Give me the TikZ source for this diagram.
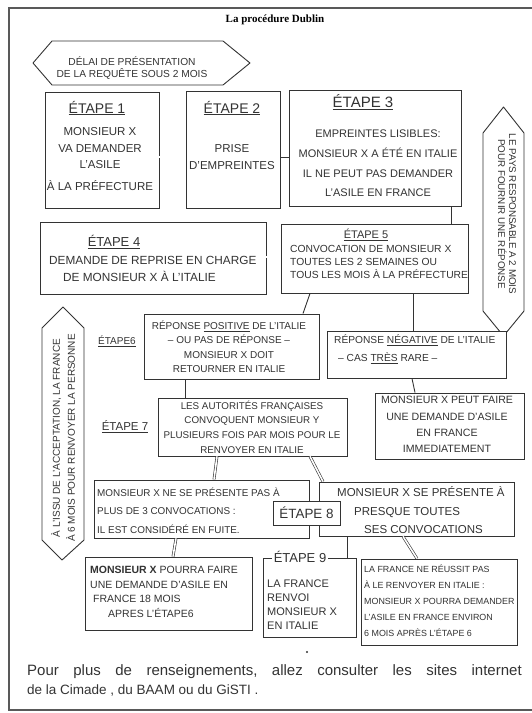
\documentclass[tikz,border=0pt]{standalone}
\usepackage{fontspec}
\setsansfont{Liberation Sans}
\newfontfamily\titlefont{Liberation Serif}
\colorlet{ink}{black!80}
\newcommand{\fs}[2]{\fontsize{#1}{#2}\selectfont}

\begin{document}
\begin{tikzpicture}[x=1pt, y=-1pt,
        box/.style={rectangle, draw=ink, line width=0.9pt, fill=white, inner sep=0pt},
        txt/.style={text=ink, inner sep=0pt, font=\sffamily},
        head/.style={text=ink, inner sep=0pt},
        link/.style={draw=ink, line width=0.9pt},
        dlink/.style={draw=ink, line width=0.6pt, double, double distance=1.6pt},
        hexa/.style={draw=ink, line width=0.9pt, line join=round}
      ]
        \useasboundingbox (0,0) rectangle (531,713);
        \draw[gray!70!black, line width=1.1pt] (9,8) rectangle (533,710);
        \node[inner sep=0pt, font=\titlefont\bfseries\fs{11}{13}] (title) at (275,20) {La procédure Dublin};

        % hexagones
        \draw[hexa] (33,63) -- (52,41) -- (223,41) -- (250,63) -- (223,85) -- (52,85) -- cycle;
        \node[txt, align=center, font=\sffamily\fs{10.2}{12}] (delai) at (132,68) {DÉLAI DE PRÉSENTATION\\DE LA REQUÊTE SOUS 2 MOIS};
        \draw[hexa] (503.5,107) -- (524,133) -- (524,311) -- (503.5,336) -- (483,311) -- (483,133) -- cycle;
        \node[txt, align=center, rotate=-90, font=\sffamily\fs{9.8}{11}] (pays) at (507,214) {LE PAYS RESPONSABLE A 2 MOIS\\POUR FOURNIR UNE RÉPONSE};
        \draw[hexa] (63,307) -- (84,328) -- (84,540) -- (62,560) -- (42,540) -- (42,328) -- cycle;
        \node[txt, align=center, rotate=90, font=\sffamily\fs{10}{15}] (issu) at (63,438) {À L'ISSU DE L'ACCEPTATION, LA FRANCE\\À 6 MOIS POUR RENVOYER LA PERSONNE};

        % cadres
        \node[box, minimum width=114, minimum height=116] (etape1)   at (102,150)   {};
        \node[box, minimum width=94,  minimum height=117] (etape2)   at (233,149.5) {};
        \node[box, minimum width=172, minimum height=116] (etape3)   at (375,148)   {};
        \node[box, minimum width=226, minimum height=72]  (etape4)   at (153,258)   {};
        \node[box, minimum width=187, minimum height=69]  (etape5)   at (374.5,258.5) {};
        \node[box, minimum width=175, minimum height=65]  (positive) at (231.5,346.5) {};
        \node[box, minimum width=179, minimum height=47]  (negative) at (416.5,354.5) {};
        \node[box, minimum width=149, minimum height=66]  (asile)    at (449.5,426) {};
        \node[box, minimum width=189, minimum height=58]  (etape7)   at (252.5,427) {};
        \node[box, minimum width=215, minimum height=58]  (fuite)    at (201.5,509) {};
        \node[box, minimum width=195, minimum height=54]  (presente) at (416.5,509) {};
        \node[box, minimum width=67,  minimum height=24, text=ink, font=\sffamily\fs{13.4}{15}] (etape8) at (306.5,513) {ÉTAPE 8};
        \node[box, minimum width=167, minimum height=73]  (dixhuit)  at (168.5,593.5) {};
        \node[box, minimum width=93,  minimum height=79]  (etape9)   at (309.5,598) {};
        \node[box, minimum width=156, minimum height=86]  (reussit)  at (439,602)   {};

        % liens
        \draw[dlink] (etape1.east |- 0,157) -- (etape2.west |- 0,157);
        \draw[link]  (etape2.east |- 0,157) -- (etape3.west |- 0,157);
        \draw[link]  (etape3.south -| 451,0) -- (etape5.north -| 451,0);
        \draw[dlink] (etape4.east |- 0,257) -- (etape5.west |- 0,257);
        \draw[link]  (etape5.south -| 310,0) -- (positive.north -| 303,0);
        \draw[link]  (etape5.south -| 413,0) -- (negative.north -| 413,0);
        \draw[link]  (negative.south -| 412,0) -- (asile.north -| 415,0);
        \draw[link]  (positive.south -| 185,0) -- (etape7.north -| 185,0);
        \draw[dlink] (etape7.south -| 217,0) -- (fuite.north -| 214,0);
        \draw[dlink] (etape7.south -| 310,0) -- (presente.north -| 323,0);
        \draw[dlink] (fuite.south -| 176,0) -- (dixhuit.north -| 173,0);
        \draw[link]  (presente.south -| 347,0) -- (etape9.north -| 347,0);
        \draw[dlink] (presente.south -| 403,0) -- (reussit.north -| 417,0);

        % textes
        \node[head, font=\sffamily\fs{14}{16}] (etape1 head) at (97,108) {\underline{ÉTAPE 1}};
        \node[txt, align=center, font=\sffamily\fs{11.5}{16.5}] (etape1 text) at (100,159) {MONSIEUR X\\VA DEMANDER\\L'ASILE\\[5pt]À LA PRÉFECTURE};
        \node[head, font=\sffamily\fs{14}{16}] (etape2 head) at (232,108) {\underline{ÉTAPE 2}};
        \node[txt, align=center, font=\sffamily\fs{11.5}{17}] (etape2 text) at (232,157.5) {PRISE\\D'EMPREINTES};
        \node[head, font=\sffamily\fs{15}{17}] (etape3 head) at (363,102) {\underline{ÉTAPE 3}};
        \node[txt, align=center, font=\sffamily\fs{11}{19.7}] (etape3 text) at (378,163.5) {EMPREINTES LISIBLES:\\MONSIEUR X A ÉTÉ EN ITALIE\\IL NE PEUT PAS DEMANDER\\L'ASILE EN FRANCE};
        \node[head, font=\sffamily\fs{13}{15}] (etape4 head) at (114,242) {\underline{ÉTAPE 4}};
        \node[txt, align=left, anchor=west, font=\sffamily\fs{11.8}{17}] (etape4 text) at (49,268.5) {DEMANDE DE REPRISE EN CHARGE\\\hspace*{14pt}DE MONSIEUR X À L'ITALIE};
        \node[head, font=\sffamily\fs{11}{13}] (etape5 head) at (366,235) {\underline{ÉTAPE 5}};
        \node[txt, align=left, anchor=west, font=\sffamily\fs{10.3}{13}] (etape5 text) at (290,262) {CONVOCATION DE MONSIEUR X\\TOUTES LES 2 SEMAINES OU\\TOUS LES MOIS À LA PRÉFECTURE};
        \node[head, font=\sffamily\fs{10}{12}] (etape6 head) at (117,341) {\underline{ÉTAPE6}};
        \node[txt, align=center, font=\sffamily\fs{10}{14.5}] (positive text) at (229,346.8) {RÉPONSE \underline{POSITIVE} DE L'ITALIE\\-- OU PAS DE RÉPONSE --\\MONSIEUR X DOIT\\RETOURNER EN ITALIE};
        \node[txt, align=left, anchor=west, font=\sffamily\fs{10.2}{18}] (negative text) at (334,349) {RÉPONSE \underline{NÉGATIVE} DE L'ITALIE\\\hspace*{4pt}-- CAS \underline{TRÈS} RARE --};
        \node[txt, align=center, font=\sffamily\fs{10.6}{16.3}] (asile text) at (447,424.5) {MONSIEUR X PEUT FAIRE\\UNE DEMANDE D'ASILE\\EN FRANCE\\IMMEDIATEMENT};
        \node[head, font=\sffamily\fs{11.5}{13}] (etape7 head) at (125,427) {\underline{ÉTAPE 7}};
        \node[txt, align=center, font=\sffamily\fs{9.8}{14.7}] (etape7 text) at (252,427) {LES AUTORITÉS FRANÇAISES\\CONVOQUENT MONSIEUR Y\\PLUSIEURS FOIS PAR MOIS POUR LE\\RENVOYER EN ITALIE};
        \node[txt, align=left, anchor=west, font=\sffamily\fs{9.9}{18.5}] (fuite text) at (97,510.5) {MONSIEUR X NE SE PRÉSENTE PAS À\\PLUS DE 3 CONVOCATIONS :\\IL EST CONSIDÉRÉ EN FUITE.};
        \node[txt, align=left, anchor=west, font=\sffamily\fs{11.5}{18.5}] (presente text) at (337,510.5) {MONSIEUR X SE PRÉSENTE À\\\hspace*{17pt}PRESQUE TOUTES\\\hspace*{27pt}SES CONVOCATIONS};
        \node[txt, align=left, anchor=west, font=\sffamily\fs{10.5}{14.7}] (dixhuit text) at (90,592) {\textbf{MONSIEUR X} POURRA FAIRE\\UNE DEMANDE D'ASILE EN\\\hspace*{3pt}FRANCE 18 MOIS\\\hspace*{18pt}APRES L'ÉTAPE6};
        \node[head, fill=white, inner sep=2pt, font=\sffamily\fs{13}{15}] (etape9 head) at (300,557) {ÉTAPE 9};
        \node[txt, align=left, anchor=west, font=\sffamily\fs{11}{14}] (etape9 text) at (267,605) {LA FRANCE\\RENVOI\\MONSIEUR X\\EN ITALIE};
        \node[txt, align=left, anchor=west, font=\sffamily\fs{8.9}{16}] (reussit text) at (364,601) {LA FRANCE NE RÉUSSIT PAS\\À LE RENVOYER EN ITALIE :\\MONSIEUR X POURRA DEMANDER\\L'ASILE EN FRANCE ENVIRON\\6 MOIS APRÈS L'ÉTAPE 6};
        \fill[ink] (307,652) circle (1.1);

        % renseignements
        \node[txt, anchor=west, font=\sffamily\fs{15}{17}] (infos) at (27,672) {\spaceskip=14.5pt\relax Pour plus de renseignements, allez consulter les sites internet};
        \node[txt, anchor=west, font=\sffamily\fs{13.5}{15}] (sites) at (27,690) {de la Cimade , du BAAM ou du GiSTI .};
      \end{tikzpicture}
\end{document}
